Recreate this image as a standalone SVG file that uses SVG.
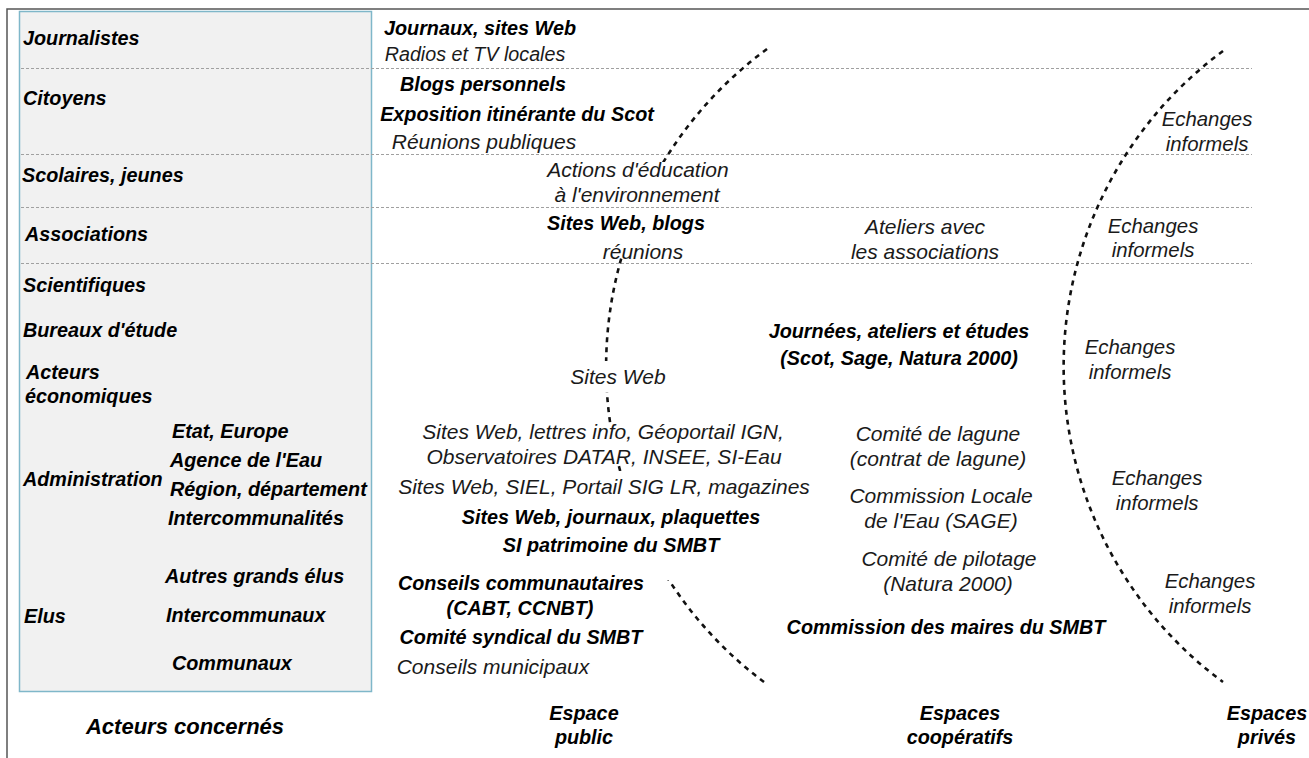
<svg xmlns="http://www.w3.org/2000/svg" width="1309" height="758" viewBox="0 0 1309 758">
<style>
text{font-family:"Liberation Sans",Arial,Helvetica,sans-serif;font-style:italic;font-size:19.8px}
.b{font-weight:bold;fill:#000}
.r{fill:#1a1a1a;font-size:21px}
.e{font-size:20.4px}
.m{text-anchor:middle}
.big{font-size:22px}
.sep{stroke:#a0a0a0;stroke-width:1;stroke-dasharray:3 2;fill:none}
.arc{stroke:#111;stroke-width:2.6;stroke-dasharray:5 5;fill:none}
</style>
<defs>
<clipPath id="clipPublic">
<rect x="580" y="40" width="220" height="122"/>
<rect x="580" y="258" width="220" height="103"/>
<rect x="580" y="392" width="220" height="31"/>
<rect x="580" y="463" width="220" height="8"/>
<rect x="580" y="580" width="220" height="112"/>
</clipPath>
</defs>
<rect width="1309" height="758" fill="#fff"/>
<g id="frame">
<path d="M7,758 V9 H1309" fill="none" stroke="#555" stroke-width="1.5"/>
</g>
<g id="actors-panel">
<rect x="19.5" y="11.5" width="352" height="680" fill="#f1f1f1" stroke="#7fb7c9" stroke-width="1.5"/>
</g>
<g id="connectors">
<g id="separators">
<line class="sep" x1="21" y1="68.5" x2="1252" y2="68.5"/>
<line class="sep" x1="21" y1="154.5" x2="1252" y2="154.5"/>
<line class="sep" x1="21" y1="207.5" x2="1252" y2="207.5"/>
<line class="sep" x1="21" y1="263.5" x2="1252" y2="263.5"/>
</g>
<path id="boundary-public" class="arc" clip-path="url(#clipPublic)" d="M767,49 A394,394 0 0 0 768,685"/>
<path id="boundary-private" class="arc" d="M1223,51 A392,392 0 0 0 1223,682"/>
</g>
<g id="actors">
<text class="b" x="23" y="45">Journalistes</text>
<text class="b" x="23" y="105">Citoyens</text>
<text class="b" x="22" y="182">Scolaires, jeunes</text>
<text class="b" x="25" y="241">Associations</text>
<text class="b" x="23" y="292">Scientifiques</text>
<text class="b" x="23" y="337">Bureaux d'étude</text>
<text class="b" x="26" y="379">Acteurs</text>
<text class="b" x="25" y="403">économiques</text>
<text class="b" x="172" y="438">Etat, Europe</text>
<text class="b" x="170" y="467">Agence de l'Eau</text>
<text class="b" x="23" y="486">Administration</text>
<text class="b" x="170" y="496">Région, département</text>
<text class="b" x="168" y="525">Intercommunalités</text>
<text class="b" x="165" y="583">Autres grands élus</text>
<text class="b" x="24" y="623">Elus</text>
<text class="b" x="166" y="622">Intercommunaux</text>
<text class="b" x="172" y="670">Communaux</text>
<text class="b big m" x="185" y="734">Acteurs concernés</text>
</g>
<g id="public-space">
<text class="b m" x="480" y="35">Journaux, sites Web</text>
<text class="r m" x="475" y="61" style="font-size:19.7px">Radios et TV locales</text>
<text class="b m" x="483" y="91">Blogs personnels</text>
<text class="b m" x="517" y="121">Exposition itinérante du Scot</text>
<text class="r m" x="484" y="149">Réunions publiques</text>
<text class="r m" x="638" y="177">Actions d'éducation</text>
<text class="r m" x="637" y="202">à l'environnement</text>
<text class="b m" x="626" y="230">Sites Web, blogs</text>
<text class="r m" x="643" y="259">réunions</text>
<text class="r m" x="618" y="384">Sites Web</text>
<text class="r m" x="603" y="439">Sites Web, lettres info, Géoportail IGN,</text>
<text class="r m" x="604" y="464">Observatoires DATAR, INSEE, SI-Eau</text>
<text class="r m" x="604" y="494">Sites Web, SIEL, Portail SIG LR, magazines</text>
<text class="b m" x="611" y="524">Sites Web, journaux, plaquettes</text>
<text class="b m" x="611" y="552">SI patrimoine du SMBT</text>
<text class="b m" x="521" y="590">Conseils communautaires</text>
<text class="b m" x="520" y="615">(CABT, CCNBT)</text>
<text class="b m" x="521" y="644">Comité syndical du SMBT</text>
<text class="r m" x="493" y="674">Conseils municipaux</text>
<text class="b m" x="584" y="720">Espace</text>
<text class="b m" x="584" y="744">public</text>
</g>
<g id="cooperative-spaces">
<text class="r m" x="925" y="234">Ateliers avec</text>
<text class="r m" x="925" y="259">les associations</text>
<text class="b m" x="899" y="338">Journées, ateliers et études</text>
<text class="b m" x="899" y="365">(Scot, Sage, Natura 2000)</text>
<text class="r m" x="938" y="441">Comité de lagune</text>
<text class="r m" x="938" y="466">(contrat de lagune)</text>
<text class="r m" x="941" y="503">Commission Locale</text>
<text class="r m" x="941" y="528">de l'Eau (SAGE)</text>
<text class="r m" x="949" y="566">Comité de pilotage</text>
<text class="r m" x="948" y="591">(Natura 2000)</text>
<text class="b m" x="946" y="634">Commission des maires du SMBT</text>
<text class="b m" x="960" y="720">Espaces</text>
<text class="b m" x="960" y="744">coopératifs</text>
</g>
<g id="private-spaces">
<text class="r e m" x="1207" y="126">Echanges</text>
<text class="r e m" x="1207" y="151">informels</text>
<text class="r e m" x="1153" y="233">Echanges</text>
<text class="r e m" x="1153" y="257">informels</text>
<text class="r e m" x="1130" y="354">Echanges</text>
<text class="r e m" x="1130" y="379">informels</text>
<text class="r e m" x="1157" y="485">Echanges</text>
<text class="r e m" x="1157" y="510">informels</text>
<text class="r e m" x="1210" y="588">Echanges</text>
<text class="r e m" x="1210" y="613">informels</text>
<text class="b m" x="1267" y="720">Espaces</text>
<text class="b m" x="1267" y="744">privés</text>
</g>
</svg>
